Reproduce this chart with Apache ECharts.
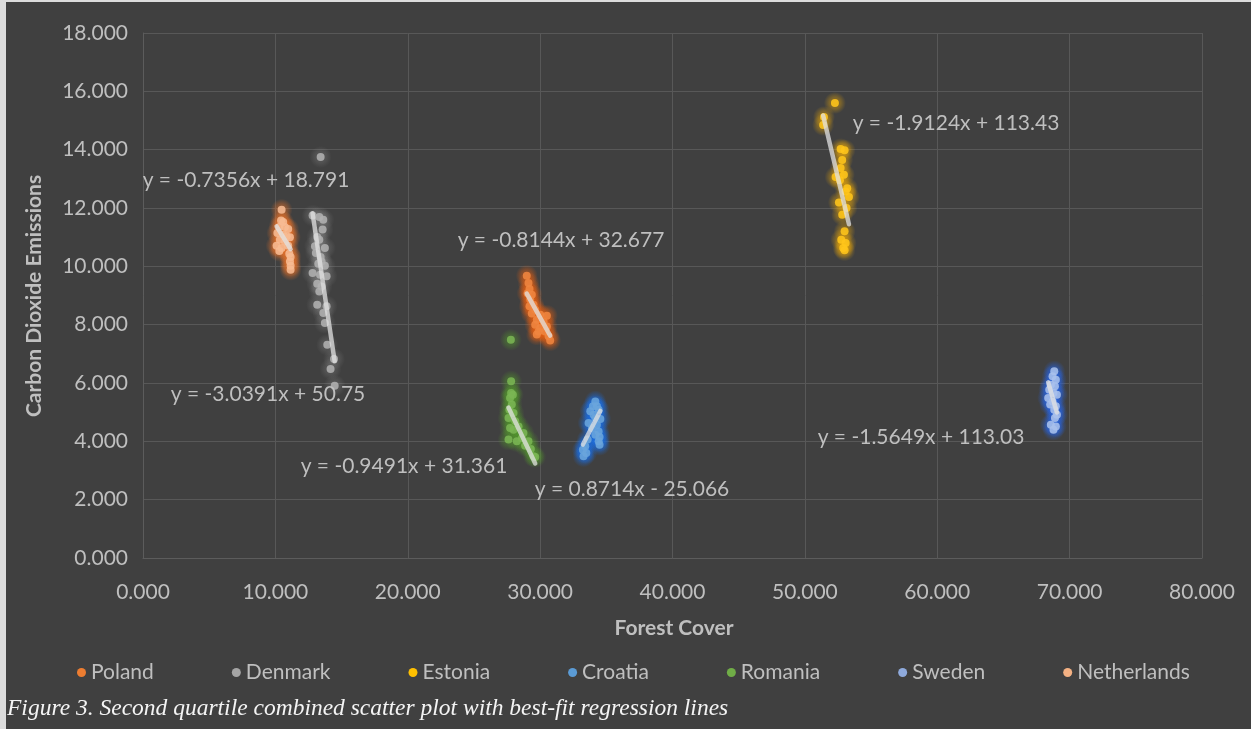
<!DOCTYPE html>
<html>
<head>
<meta charset="utf-8">
<script src="https://cdn.jsdelivr.net/npm/echarts@6/dist/echarts.min.js"></script>
<style>
  html, body { margin: 0; padding: 0; background: #dcdcdc; width: 1251px; height: 729px; overflow: hidden; }
  #chart { position: absolute; left: 6px; top: 2px; width: 1245px; height: 727px; background: #404040; }
</style>
</head>
<body>
<div id="chart"></div>
<script>
// Countries in legend order
const countries = ['Poland', 'Denmark', 'Estonia', 'Croatia', 'Romania', 'Sweden', 'Netherlands'];

// Forest cover (x) vs. carbon dioxide emissions (y), one pair per year
const poland = [
  [28.99, 9.68], [29.12, 9.43], [29.20, 9.22], [29.05, 9.08], [29.37, 9.03], [29.25, 8.86],
  [29.50, 8.68], [29.20, 8.63], [29.63, 8.51], [29.37, 8.38], [30.01, 8.34], [30.51, 8.31],
  [29.75, 8.17], [30.26, 8.11], [29.63, 8.00], [30.51, 7.94], [30.01, 7.89], [29.88, 7.77],
  [30.38, 7.77], [29.75, 7.66], [30.64, 7.60], [30.76, 7.46]
];
const denmark = [
  [13.42, 13.75], [12.81, 11.74], [13.32, 11.69], [13.62, 11.60], [13.57, 11.26], [13.16, 11.01],
  [13.32, 10.91], [12.99, 10.69], [13.74, 10.63], [13.06, 10.46], [13.42, 10.32], [13.49, 10.17],
  [13.24, 10.09], [13.74, 10.02], [12.81, 9.77], [13.37, 9.71], [13.87, 9.66], [13.16, 9.40],
  [13.49, 9.31], [13.32, 9.14], [13.16, 8.68], [13.87, 8.63], [13.62, 8.40], [13.74, 8.06],
  [13.92, 7.31], [14.43, 6.82], [14.17, 6.48], [14.48, 5.91]
];
const estonia = [
  [52.27, 15.60], [51.44, 15.12], [51.38, 14.85], [52.70, 14.02], [53.00, 13.98], [52.82, 13.65],
  [52.70, 13.37], [52.95, 13.14], [52.32, 13.06], [52.65, 12.95], [53.20, 12.68], [53.08, 12.57],
  [53.33, 12.38], [52.57, 12.19], [53.15, 12.00], [52.82, 11.77], [53.00, 11.20], [52.75, 10.91],
  [53.08, 10.80], [52.90, 10.63], [53.00, 10.55]
];
const croatia = [
  [34.17, 5.37], [33.99, 5.20], [34.29, 5.20], [34.42, 5.08], [33.79, 5.03], [34.04, 4.91],
  [34.17, 4.80], [34.55, 4.77], [33.66, 4.63], [34.29, 4.57], [33.91, 4.46], [34.42, 4.34],
  [34.17, 4.23], [34.49, 4.15], [33.59, 4.06], [34.42, 4.00], [34.49, 3.88], [33.41, 3.83],
  [33.23, 3.71], [33.49, 3.60], [33.28, 3.49]
];
const romania = [
  [27.79, 7.48], [27.81, 6.06], [27.81, 5.66], [27.94, 5.60], [27.73, 5.49], [27.86, 5.26],
  [27.68, 5.08], [27.99, 4.97], [27.61, 4.80], [28.12, 4.69], [27.73, 4.46], [28.37, 4.51],
  [27.99, 4.40], [28.74, 4.29], [28.62, 4.11], [27.61, 4.06], [28.24, 4.00], [29.12, 4.00],
  [28.87, 3.85], [29.30, 3.74], [29.50, 3.49], [29.63, 3.46]
];
const sweden = [
  [68.84, 6.40], [68.71, 6.23], [68.96, 6.11], [68.58, 5.94], [68.89, 5.89], [68.46, 5.77],
  [68.78, 5.66], [69.04, 5.60], [68.38, 5.49], [68.71, 5.37], [68.53, 5.26], [68.96, 5.20],
  [68.84, 5.08], [69.04, 4.91], [68.89, 4.80], [68.58, 4.57], [68.96, 4.51], [68.78, 4.40]
];
const netherlands = [
  [10.47, 11.94], [10.43, 11.57], [10.59, 11.52], [10.30, 11.35], [10.72, 11.35], [10.97, 11.28],
  [10.15, 11.14], [10.59, 11.08], [10.85, 11.03], [11.10, 11.00], [10.34, 10.91], [10.72, 10.85],
  [10.09, 10.71], [10.97, 10.71], [10.47, 10.63], [10.30, 10.53], [11.05, 10.43], [11.15, 10.32],
  [11.10, 10.17], [11.15, 10.02], [11.15, 9.88]
];

// Least-squares trendline coefficients, y = slope * x + intercept
const trendSlopes     = [-0.8144, -3.0391, -1.9124, 0.8714, -0.9491, -1.5649, -0.7356];
const trendIntercepts = [32.677, 50.75, 113.43, -25.066, 31.361, 113.03, 18.791];

const seriesPoints = [poland, denmark, estonia, croatia, romania, sweden, netherlands];

// ---- styling ----
const fillColors = ['#EF8540', '#B0B0B0', '#FFC51A', '#6AA5DC', '#7AB553', '#A9C0EC', '#F7BB93'];
// glow halo colours (r, g, b, peak alpha)
const glowRGBA = [[235, 95, 15, 0.62], [175, 175, 175, 0.25], [255, 180, 0, 0.5],
                  [25, 110, 230, 0.68], [85, 165, 40, 0.5], [40, 100, 225, 0.68],
                  [237, 115, 40, 0.62]];
const legendColors = ['#ED7D31', '#A5A5A5', '#FFC000', '#5B9BD5', '#70AD47', '#8FAADC', '#F4B183'];
// equation label anchors in page pixels (centre x, centre y)
const eqLabelAnchors = [[561, 240], [268, 394], [956, 123], [632, 489], [404, 466], [921, 437], [246, 180]];

const OFFSET_X = 6, OFFSET_Y = 2;
const FONT = 'Lato, "Open Sans", sans-serif';
const TEXT_GREY = '#bfbfbf';

function eqText(m, b) {
  return 'y = ' + m + 'x ' + (b < 0 ? '- ' : '+ ') + Math.abs(b);
}
function halo(c) {
  const base = 'rgba(' + c[0] + ',' + c[1] + ',' + c[2] + ',';
  return {
    type: 'radial', x: 0.5, y: 0.5, r: 0.5,
    colorStops: [
      { offset: 0, color: base + c[3] + ')' },
      { offset: 0.5, color: base + (c[3] * 0.8) + ')' },
      { offset: 1, color: base + '0)' }
    ]
  };
}

const series = [];
// soft glow halo under each marker
countries.forEach(function (name, i) {
  series.push({
    name: name + ' glow',
    type: 'scatter',
    data: seriesPoints[i],
    symbol: 'circle',
    symbolSize: 22,
    z: 1,
    silent: true,
    itemStyle: { color: halo(glowRGBA[i]) },
    emphasis: { disabled: true }
  });
});
countries.forEach(function (name, i) {
  series.push({
    name: name,
    type: 'scatter',
    data: seriesPoints[i],
    symbol: 'circle',
    symbolSize: 8,
    z: 2,
    itemStyle: { color: fillColors[i], opacity: 0.88 },
    emphasis: { disabled: true }
  });
});
countries.forEach(function (name, i) {
  const xs = seriesPoints[i].map(function (p) { return p[0]; });
  const x0 = Math.min.apply(null, xs), x1 = Math.max.apply(null, xs);
  const m = trendSlopes[i], b = trendIntercepts[i];
  series.push({
    name: name + ' trend',
    type: 'line',
    data: [[x0, m * x0 + b], [x1, m * x1 + b]],
    symbol: 'none',
    z: 3,
    lineStyle: { color: 'rgba(225,225,225,0.75)', width: 4.5, cap: 'round' },
    emphasis: { disabled: true },
    silent: true
  });
});

const graphics = [];
countries.forEach(function (name, i) {
  graphics.push({
    type: 'text',
    x: eqLabelAnchors[i][0] - OFFSET_X,
    y: eqLabelAnchors[i][1] - OFFSET_Y,
    style: {
      text: eqText(trendSlopes[i], trendIntercepts[i]),
      fill: TEXT_GREY, font: '21px ' + FONT,
      textAlign: 'center', textVerticalAlign: 'middle'
    },
    z: 10
  });
});
graphics.push({
  type: 'text', x: 34 - OFFSET_X, y: 296 - OFFSET_Y, rotation: Math.PI / 2,
  style: { text: 'Carbon Dioxide Emissions', fill: TEXT_GREY, font: 'bold 21px ' + FONT,
           textAlign: 'center', textVerticalAlign: 'middle' }
});
graphics.push({
  type: 'text', x: 674 - OFFSET_X, y: 628 - OFFSET_Y,
  style: { text: 'Forest Cover', fill: TEXT_GREY, font: 'bold 21px ' + FONT,
           textAlign: 'center', textVerticalAlign: 'middle' }
});
graphics.push({
  type: 'text', x: 1, y: 709 - OFFSET_Y,
  style: { text: 'Figure 3. Second quartile combined scatter plot with best-fit regression lines',
           fill: '#f4f4f4', font: 'italic 23.5px "Liberation Serif", "DejaVu Serif", serif',
           textAlign: 'left', textVerticalAlign: 'middle' }
});

const chart = echarts.init(document.getElementById('chart'), null, { renderer: 'canvas' });
chart.setOption({
  backgroundColor: '#404040',
  animation: false,
  color: legendColors,
  grid: { left: 137, right: 49, top: 31, bottom: 171 },
  xAxis: {
    type: 'value', min: 0, max: 80, interval: 10,
    axisLine: { show: true, lineStyle: { color: '#5c5c5c', width: 1 } },
    axisTick: { show: false },
    splitLine: { show: true, lineStyle: { color: '#585858', width: 1 } },
    axisLabel: { color: TEXT_GREY, fontSize: 21, fontFamily: FONT, margin: 24,
                 formatter: function (v) { return v.toFixed(3); } }
  },
  yAxis: {
    type: 'value', min: 0, max: 18, interval: 2,
    axisLine: { show: true, lineStyle: { color: '#5c5c5c', width: 1 } },
    axisTick: { show: false },
    splitLine: { show: true, lineStyle: { color: '#585858', width: 1 } },
    axisLabel: { color: TEXT_GREY, fontSize: 21, fontFamily: FONT, margin: 15,
                 formatter: function (v) { return v.toFixed(3); } }
  },
  legend: {
    data: countries.map(function (n, i) {
      return { name: n, itemStyle: { color: legendColors[i], opacity: 1 } };
    }),
    icon: 'circle', itemWidth: 9, itemHeight: 9, itemGap: 78,
    top: 655, left: 66,
    textStyle: { color: TEXT_GREY, fontSize: 21, fontFamily: FONT },
    selectedMode: false
  },
  graphic: graphics,
  series: series
});
</script>
</body>
</html>
